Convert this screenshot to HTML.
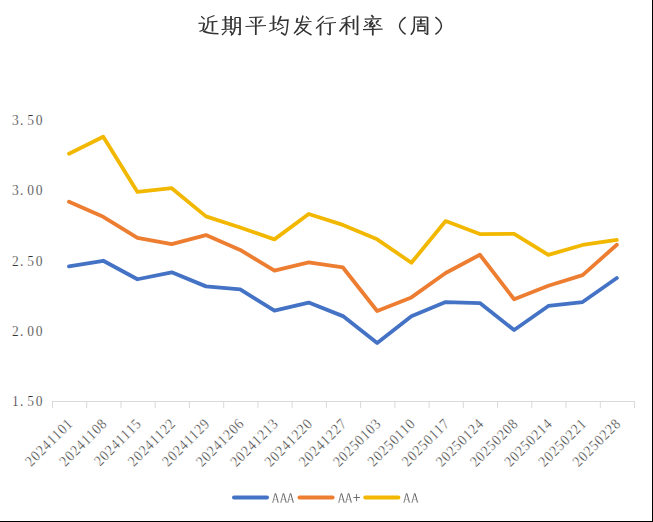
<!DOCTYPE html>
<html><head><meta charset="utf-8"><style>
html,body{margin:0;padding:0;background:#fff;}
body{width:653px;height:522px;overflow:hidden;position:relative;}
svg{position:absolute;left:0;top:0;display:block;}
</style></head><body>
<svg width="653" height="522" viewBox="0 0 653 522">
<rect x="0" y="0" width="653" height="522" fill="#fff"/>
<g fill="none" stroke="#333333" stroke-width="1.3" stroke-linecap="butt" stroke-linejoin="miter"><path transform="translate(196,12)" stroke-width="1.2" d="M5.2,4.2L8.5,7.3M2.5,11.3L8.3,11.0M7.0,18.0L3.5,19.5M18.5,3.5L12,6M12,10L21.5,9.3"/><path transform="translate(196,12)" stroke-width="1.75" d="M8.3,11.0L7.0,18.0M16.5,9.8L16.5,19.5"/><path transform="translate(196,12)" stroke-width="1.5" d="M7,19Q12,21.5 22.5,21.8M12,5.8L12,12Q11.5,16 8.5,18.5"/><path transform="translate(219,12)" stroke-width="1.2" d="M3,8L14.5,7.5M6.5,11L12,11M6.5,14L12,14M2.5,17.5L15,17M7.5,18.5L3,23M16.0,5.5L21.0,5.5M21.0,23.0L19.0,22.0M16,11L21,11M16,15.5L21,15.5"/><path transform="translate(219,12)" stroke-width="1.75" d="M6.5,4L6.5,17M12,4L12,17M11,19L14,22.5M21.0,5.5L21.0,23.0"/><path transform="translate(219,12)" stroke-width="1.5" d="M16,5.5L16,16Q15.5,20.5 12,23.5"/><path transform="translate(243,12)" stroke-width="1.2" d="M6,5.5L20.5,5M7.5,8.5L10.5,11.5M2.5,14.5L23,13.5"/><path transform="translate(243,12)" stroke-width="1.75" d="M18.5,7.5L15.5,11.5M12.8,5.5L12.8,23"/><path transform="translate(243,12)" stroke-width="1.5" d=""/><path transform="translate(266,12)" stroke-width="1.2" d="M3.5,11.5L10.5,10.5M3,19.5L11,16M13.5,11.5L17,14M10.5,18.5L18,15"/><path transform="translate(266,12)" stroke-width="1.75" d="M7.5,3.5L7.5,17M15,4L11.5,13"/><path transform="translate(266,12)" stroke-width="1.5" d="M13.5,8.5L22,8L21,17Q20.5,22 19,23L15,20.5"/><path transform="translate(290,12)" stroke-width="1.2" d="M6.5,10.5L21.5,9.5M16,4.5L19,7.5"/><path transform="translate(290,12)" stroke-width="1.75" d="M7.5,6L6.5,10.5"/><path transform="translate(290,12)" stroke-width="1.5" d="M13,3.5Q11,15 4,21.5M10,13L17.5,12.5Q14,19 6.5,23M10.5,15Q15,20 21.5,23"/><path transform="translate(313,12)" stroke-width="1.2" d="M10.5,4L4.5,9.5M11,9L3,16.5M12.5,6.5L20.5,5.5M10.5,11.5L23,10.5M17.0,23.0L14.0,21.5"/><path transform="translate(313,12)" stroke-width="1.75" d="M7.5,12L7.5,23.5M17.0,11.0L17.0,23.0"/><path transform="translate(313,12)" stroke-width="1.5" d=""/><path transform="translate(337,12)" stroke-width="1.2" d="M13.5,4L4.5,7.5M4,11L15.5,10.5M10,12L13.5,15.5M20.5,23.0L17.5,21.5"/><path transform="translate(337,12)" stroke-width="1.75" d="M9.5,6L9.5,23M9.5,11L2.5,19.5M16.5,7L16.5,17.5M20.5,3.5L20.5,23.0"/><path transform="translate(337,12)" stroke-width="1.5" d=""/><path transform="translate(360,12)" stroke-width="1.2" d="M4.6,7.2L21.4,6.6M8.9,11.8L12.6,11.6M9.2,14.9L14.6,14.3M5,9.2L7.8,11M4.2,14.7L8.1,12.3M15.8,11.4L20.8,14.3M3,17.7L22.6,17.1"/><path transform="translate(360,12)" stroke-width="1.75" d="M11.3,3.2L13.6,5.6M12.2,8.2L8.9,11.8M13.2,10.4L9.2,14.9M13.6,12.6L15.2,14.6M18.6,8.2L16,10.9M12.8,15.2L12.8,23.6"/><path transform="translate(360,12)" stroke-width="1.5" d=""/><path transform="translate(0,0)" stroke-width="1.2" d="M414.3,17.1L427.5,17.1M427.5,34.8L424.4,32.8M416.9,21.1L425.5,20.6M416.4,24.2L425.5,23.8"/><path transform="translate(0,0)" stroke-width="1.75" d="M427.5,17.1L427.5,34.8M420.9,18.6L420.9,23.9"/><path transform="translate(0,0)" stroke-width="1.5" d="M405.6,17.1Q393.5,25.7 405.6,34.3M435.4,17.1Q447.5,25.7 435.4,34.3M414.3,16.6L414.3,27Q414,32 410.8,34.8M417.9,26.2L424.9,26.2L424.9,30.7L417.9,30.7Z"/></g>
<g font-family='"Liberation Serif", serif' font-size="15" fill="#333" stroke="#fff" stroke-width="0.25"><text transform="translate(15.4,124.60) scale(0.9,1)" text-anchor="middle">3</text><text transform="translate(21.8,124.60) scale(0.9,1)" text-anchor="middle">.</text><text transform="translate(30.6,124.60) scale(0.9,1)" text-anchor="middle">5</text><text transform="translate(39.0,124.60) scale(0.9,1)" text-anchor="middle">0</text><text transform="translate(15.4,194.85) scale(0.9,1)" text-anchor="middle">3</text><text transform="translate(21.8,194.85) scale(0.9,1)" text-anchor="middle">.</text><text transform="translate(30.6,194.85) scale(0.9,1)" text-anchor="middle">0</text><text transform="translate(39.0,194.85) scale(0.9,1)" text-anchor="middle">0</text><text transform="translate(15.4,265.70) scale(0.9,1)" text-anchor="middle">2</text><text transform="translate(21.8,265.70) scale(0.9,1)" text-anchor="middle">.</text><text transform="translate(30.6,265.70) scale(0.9,1)" text-anchor="middle">5</text><text transform="translate(39.0,265.70) scale(0.9,1)" text-anchor="middle">0</text><text transform="translate(15.4,335.90) scale(0.9,1)" text-anchor="middle">2</text><text transform="translate(21.8,335.90) scale(0.9,1)" text-anchor="middle">.</text><text transform="translate(30.6,335.90) scale(0.9,1)" text-anchor="middle">0</text><text transform="translate(39.0,335.90) scale(0.9,1)" text-anchor="middle">0</text><text transform="translate(15.4,405.60) scale(0.9,1)" text-anchor="middle">1</text><text transform="translate(21.8,405.60) scale(0.9,1)" text-anchor="middle">.</text><text transform="translate(30.6,405.60) scale(0.9,1)" text-anchor="middle">5</text><text transform="translate(39.0,405.60) scale(0.9,1)" text-anchor="middle">0</text></g>
<path d="M52.5,401.5H634.5" stroke="#D9D9D9" stroke-width="1" fill="none"/><path d="M52.5,401V408M86.7,401V408M121.0,401V408M155.2,401V408M189.4,401V408M223.7,401V408M257.9,401V408M292.1,401V408M326.4,401V408M360.6,401V408M394.9,401V408M429.1,401V408M463.3,401V408M497.6,401V408M531.8,401V408M566.0,401V408M600.3,401V408M634.5,401V408" stroke="#D9D9D9" stroke-width="1" fill="none"/>
<g font-family='"Liberation Serif", serif' font-size="15" fill="#2e2e2e" stroke="#fff" stroke-width="0.3"><text transform="translate(74.00,424.30) rotate(-45) scale(0.9,1)" text-anchor="end" letter-spacing="1.0">20241101</text><text transform="translate(108.24,424.30) rotate(-45) scale(0.9,1)" text-anchor="end" letter-spacing="1.0">20241108</text><text transform="translate(142.48,424.30) rotate(-45) scale(0.9,1)" text-anchor="end" letter-spacing="1.0">20241115</text><text transform="translate(176.72,424.30) rotate(-45) scale(0.9,1)" text-anchor="end" letter-spacing="1.0">20241122</text><text transform="translate(210.96,424.30) rotate(-45) scale(0.9,1)" text-anchor="end" letter-spacing="1.0">20241129</text><text transform="translate(245.20,424.30) rotate(-45) scale(0.9,1)" text-anchor="end" letter-spacing="1.0">20241206</text><text transform="translate(279.44,424.30) rotate(-45) scale(0.9,1)" text-anchor="end" letter-spacing="1.0">20241213</text><text transform="translate(313.68,424.30) rotate(-45) scale(0.9,1)" text-anchor="end" letter-spacing="1.0">20241220</text><text transform="translate(347.92,424.30) rotate(-45) scale(0.9,1)" text-anchor="end" letter-spacing="1.0">20241227</text><text transform="translate(382.16,424.30) rotate(-45) scale(0.9,1)" text-anchor="end" letter-spacing="1.0">20250103</text><text transform="translate(416.40,424.30) rotate(-45) scale(0.9,1)" text-anchor="end" letter-spacing="1.0">20250110</text><text transform="translate(450.64,424.30) rotate(-45) scale(0.9,1)" text-anchor="end" letter-spacing="1.0">20250117</text><text transform="translate(484.88,424.30) rotate(-45) scale(0.9,1)" text-anchor="end" letter-spacing="1.0">20250124</text><text transform="translate(519.12,424.30) rotate(-45) scale(0.9,1)" text-anchor="end" letter-spacing="1.0">20250208</text><text transform="translate(553.36,424.30) rotate(-45) scale(0.9,1)" text-anchor="end" letter-spacing="1.0">20250214</text><text transform="translate(587.60,424.30) rotate(-45) scale(0.9,1)" text-anchor="end" letter-spacing="1.0">20250221</text><text transform="translate(621.84,424.30) rotate(-45) scale(0.9,1)" text-anchor="end" letter-spacing="1.0">20250228</text></g>
<polyline points="69.00,266.38 103.24,260.76 137.48,279.24 171.72,272.31 205.96,286.37 240.20,289.29 274.44,310.68 308.68,302.55 342.92,316.11 377.16,343.03 411.40,316.31 445.64,302.04 479.88,303.05 514.12,330.07 548.36,305.96 582.60,302.04 616.84,278.04" fill="none" stroke="#4472C4" stroke-width="3.8" stroke-linejoin="round" stroke-linecap="round"/><polyline points="69.00,201.79 103.24,216.76 137.48,237.76 171.72,244.08 205.96,235.04 240.20,249.91 274.44,270.70 308.68,262.47 342.92,267.49 377.16,310.98 411.40,297.42 445.64,273.01 479.88,254.73 514.12,299.23 548.36,285.77 582.60,275.12 616.84,244.79" fill="none" stroke="#ED7D31" stroke-width="3.8" stroke-linejoin="round" stroke-linecap="round"/><polyline points="69.00,153.68 103.24,136.70 137.48,191.95 171.72,188.23 205.96,216.36 240.20,227.51 274.44,239.36 308.68,213.95 342.92,224.90 377.16,239.36 411.40,262.77 445.64,221.08 479.88,234.04 514.12,233.94 548.36,254.93 582.60,244.99 616.84,239.97" fill="none" stroke="#F2B800" stroke-width="3.8" stroke-linejoin="round" stroke-linecap="round"/>
<g><path d="M234,497.4H267" stroke="#4472C4" stroke-width="4" stroke-linecap="round"/><path d="M299.5,497.4H332.6" stroke="#ED7D31" stroke-width="4" stroke-linecap="round"/><path d="M365.3,497.4H398.4" stroke="#F2B800" stroke-width="4" stroke-linecap="round"/><path fill="none" stroke="#6a6a6a" stroke-width="0.85" d="M272.80,502.4L275.20,493.4M280.80,502.4L283.20,493.4M287.90,502.4L290.30,493.4M338.80,502.4L341.20,493.4M345.90,502.4L348.30,493.4M404.00,502.4L406.40,493.4M412.10,502.4L414.50,493.4"/><path fill="none" stroke="#4a4a4a" stroke-width="0.9" d="M275.60,493.4L278.20,502.4M283.60,493.4L286.20,502.4M290.70,493.4L293.30,502.4M341.60,493.4L344.20,502.4M348.70,493.4L351.30,502.4M406.80,493.4L409.40,502.4M414.90,493.4L417.50,502.4"/><path fill="none" stroke="#a0a0a0" stroke-width="0.6" d="M271.90,502.4H273.50 M277.40,502.4H279.00 M273.80,499.6H277.30M279.90,502.4H281.50 M285.40,502.4H287.00 M281.80,499.6H285.30M287.00,502.4H288.60 M292.50,502.4H294.10 M288.90,499.6H292.40M337.90,502.4H339.50 M343.40,502.4H345.00 M339.80,499.6H343.30M345.00,502.4H346.60 M350.50,502.4H352.10 M346.90,499.6H350.40M403.10,502.4H404.70 M408.60,502.4H410.20 M405.00,499.6H408.50M411.20,502.4H412.80 M416.70,502.4H418.30 M413.10,499.6H416.60"/><path fill="none" stroke="#606060" stroke-width="0.9" d="M353.4,497.5H360M356.6,494.1V501.2"/></g>
<rect x="652" y="0" width="1" height="522" fill="#000"/>
<rect x="0" y="521" width="653" height="1" fill="#000"/>
</svg>
</body></html>
